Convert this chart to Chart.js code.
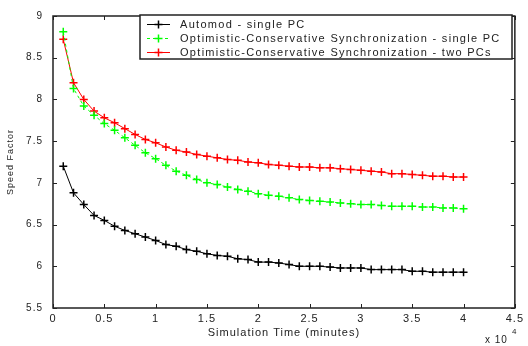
<!DOCTYPE html>
<html>
<head>
<meta charset="utf-8">
<script src="https://cdn.jsdelivr.net/npm/chart.js@4/dist/chart.umd.min.js"></script>
<style>
  body { margin: 0; background: #fff; }
  canvas { display: block; }
</style>
</head>
<body>
<canvas id="myChart" width="528" height="346"></canvas>
<script>
// simulation time, in units of 10^4 minutes
const simTime = [0.1, 0.2, 0.3, 0.4, 0.5, 0.6, 0.7, 0.8, 0.9, 1.0,
    1.1, 1.2, 1.3, 1.4, 1.5, 1.6, 1.7, 1.8, 1.9, 2.0,
    2.1, 2.2, 2.3, 2.4, 2.5, 2.6, 2.7, 2.8, 2.9, 3.0,
    3.1, 3.2, 3.3, 3.4, 3.5, 3.6, 3.7, 3.8, 3.9, 4.0];

const automodSingle = [7.20, 6.88, 6.74, 6.61, 6.55, 6.48, 6.43, 6.39, 6.35, 6.31,
    6.26, 6.24, 6.20, 6.18, 6.15, 6.13, 6.12, 6.09, 6.08, 6.05,
    6.05, 6.04, 6.02, 6.00, 6.00, 6.00, 5.99, 5.98, 5.98, 5.98,
    5.96, 5.96, 5.96, 5.96, 5.94, 5.94, 5.93, 5.93, 5.93, 5.93];

const ocsSingle = [8.81, 8.13, 7.92, 7.81, 7.71, 7.63, 7.54, 7.45, 7.36, 7.29,
    7.21, 7.14, 7.09, 7.04, 7.00, 6.98, 6.95, 6.92, 6.90, 6.87,
    6.85, 6.84, 6.82, 6.80, 6.79, 6.78, 6.77, 6.76, 6.75, 6.74,
    6.74, 6.73, 6.72, 6.72, 6.72, 6.71, 6.71, 6.70, 6.70, 6.69];

const ocsTwo = [8.72, 8.20, 8.00, 7.86, 7.78, 7.72, 7.65, 7.58, 7.52, 7.48,
    7.43, 7.39, 7.37, 7.34, 7.32, 7.30, 7.28, 7.27, 7.25, 7.24,
    7.22, 7.21, 7.20, 7.19, 7.19, 7.18, 7.18, 7.17, 7.16, 7.15,
    7.14, 7.13, 7.11, 7.11, 7.10, 7.09, 7.08, 7.08, 7.07, 7.07];

const seriesNames = [
    'Automod - single PC',
    'Optimistic-Conservative Synchronization - single PC',
    'Optimistic-Conservative Synchronization - two PCs'
];

const FONT = '"Liberation Sans", Arial, sans-serif';

function toPoints(ys) {
    return ys.map((y, i) => ({ x: simTime[i], y: y }));
}

// plain numbers like matlab: 0, 0.5, 1 ...
function plainTick(value) {
    return String(Math.round(value * 10) / 10);
}

// matlab style frame, inward ticks, legend box and exponent label
const matlabStyle = {
    id: 'matlabStyle',
    beforeLayout(chart) {
        chart.ctx.letterSpacing = '1px';
    },
    beforeDraw(chart) {
        const ctx = chart.ctx;
        ctx.save();
        ctx.fillStyle = '#fff';
        ctx.fillRect(0, 0, chart.width, chart.height);
        ctx.restore();
        ctx.letterSpacing = '1px';
    },
    afterDraw(chart) {
        const ctx = chart.ctx;
        const a = chart.chartArea;
        const xs = chart.scales.x;
        const ys = chart.scales.y;
        ctx.save();
        ctx.strokeStyle = '#222';
        ctx.lineWidth = 1;
        xs.ticks.forEach(t => {
            const px = Math.round(xs.getPixelForValue(t.value)) + 0.5;
            ctx.beginPath();
            ctx.moveTo(px, a.bottom); ctx.lineTo(px, a.bottom - 4);
            ctx.moveTo(px, a.top); ctx.lineTo(px, a.top + 4);
            ctx.stroke();
        });
        ys.ticks.forEach(t => {
            const py = Math.round(ys.getPixelForValue(t.value)) + 0.5;
            ctx.beginPath();
            ctx.moveTo(a.left, py); ctx.lineTo(a.left + 4, py);
            ctx.moveTo(a.right, py); ctx.lineTo(a.right - 4, py);
            ctx.stroke();
        });
        ctx.lineWidth = 1.5;
        ctx.strokeRect(a.left, a.top, a.right - a.left, a.bottom - a.top);

        // legend
        const bx = 140, by = 15, bw = 372, bh = 44;
        ctx.fillStyle = '#fff';
        ctx.fillRect(bx, by, bw, bh);
        ctx.lineWidth = 1.5;
        ctx.strokeStyle = '#222';
        ctx.strokeRect(bx, by, bw, bh);
        ctx.font = '11px ' + FONT;
        ctx.textBaseline = 'middle';
        ctx.letterSpacing = '1.3px';
        chart.data.datasets.forEach((ds, i) => {
            const y = by + 9.5 + i * 14;
            ctx.strokeStyle = ds.borderColor;
            ctx.lineWidth = 1;
            ctx.setLineDash(ds.borderDash || []);
            ctx.beginPath();
            ctx.moveTo(147, y); ctx.lineTo(170, y);
            ctx.stroke();
            ctx.setLineDash([]);
            ctx.lineWidth = 1.5;
            ctx.beginPath();
            ctx.moveTo(154.5, y); ctx.lineTo(162.5, y);
            ctx.moveTo(158.5, y - 4); ctx.lineTo(158.5, y + 4);
            ctx.stroke();
            ctx.fillStyle = '#222';
            ctx.fillText(ds.label, 180, y);
        });

        // x 10^4
        ctx.letterSpacing = '1px';
        ctx.fillStyle = '#222';
        ctx.textBaseline = 'alphabetic';
        ctx.font = '10px ' + FONT;
        ctx.fillText('x 10', 485, 343);
        ctx.font = '8px ' + FONT;
        ctx.fillText('4', 512, 334);
        ctx.restore();
    }
};

new Chart(document.getElementById('myChart'), {
    type: 'line',
    data: {
        datasets: [{
            label: seriesNames[0],
            data: toPoints(automodSingle),
            borderColor: '#000',
            borderWidth: 1
        }, {
            label: seriesNames[1],
            data: toPoints(ocsSingle),
            borderColor: '#00ff00',
            borderWidth: 1,
            borderDash: [3, 3]
        }, {
            label: seriesNames[2],
            data: toPoints(ocsTwo),
            borderColor: '#ff0000',
            borderWidth: 1
        }].map(ds => Object.assign(ds, {
            pointStyle: 'cross',
            pointRadius: 4,
            pointBorderWidth: 1.5,
            pointBorderColor: ds.borderColor,
            fill: false,
            tension: 0
        }))
    },
    options: {
        responsive: false,
        animation: false,
        layout: { padding: { left: 0, right: 9, top: 8, bottom: 0 } },
        plugins: {
            legend: { display: false },
            tooltip: { enabled: false }
        },
        scales: {
            x: {
                type: 'linear',
                min: 0,
                max: 4.5,
                afterFit(scale) { scale.height = 38; },
                ticks: {
                    stepSize: 0.5,
                    color: '#222',
                    padding: 4,
                    maxRotation: 0,
                    callback: plainTick,
                    font: { family: FONT, size: 11 }
                },
                grid: { drawOnChartArea: false, drawTicks: false },
                border: { display: false },
                title: {
                    display: true,
                    text: 'Simulation Time (minutes)',
                    color: '#222',
                    padding: { top: 0, bottom: 6 },
                    font: { family: FONT, size: 11 }
                }
            },
            y: {
                min: 5.5,
                max: 9,
                afterFit(scale) { scale.width = 53; },
                ticks: {
                    stepSize: 0.5,
                    color: '#222',
                    padding: 10,
                    callback: plainTick,
                    font: { family: FONT, size: 10 }
                },
                grid: { drawOnChartArea: false, drawTicks: false },
                border: { display: false },
                title: {
                    display: true,
                    text: 'Speed Factor',
                    color: '#222',
                    padding: { top: 5, bottom: 0 },
                    font: { family: FONT, size: 9 }
                }
            }
        }
    },
    plugins: [matlabStyle]
});
</script>
</body>
</html>
